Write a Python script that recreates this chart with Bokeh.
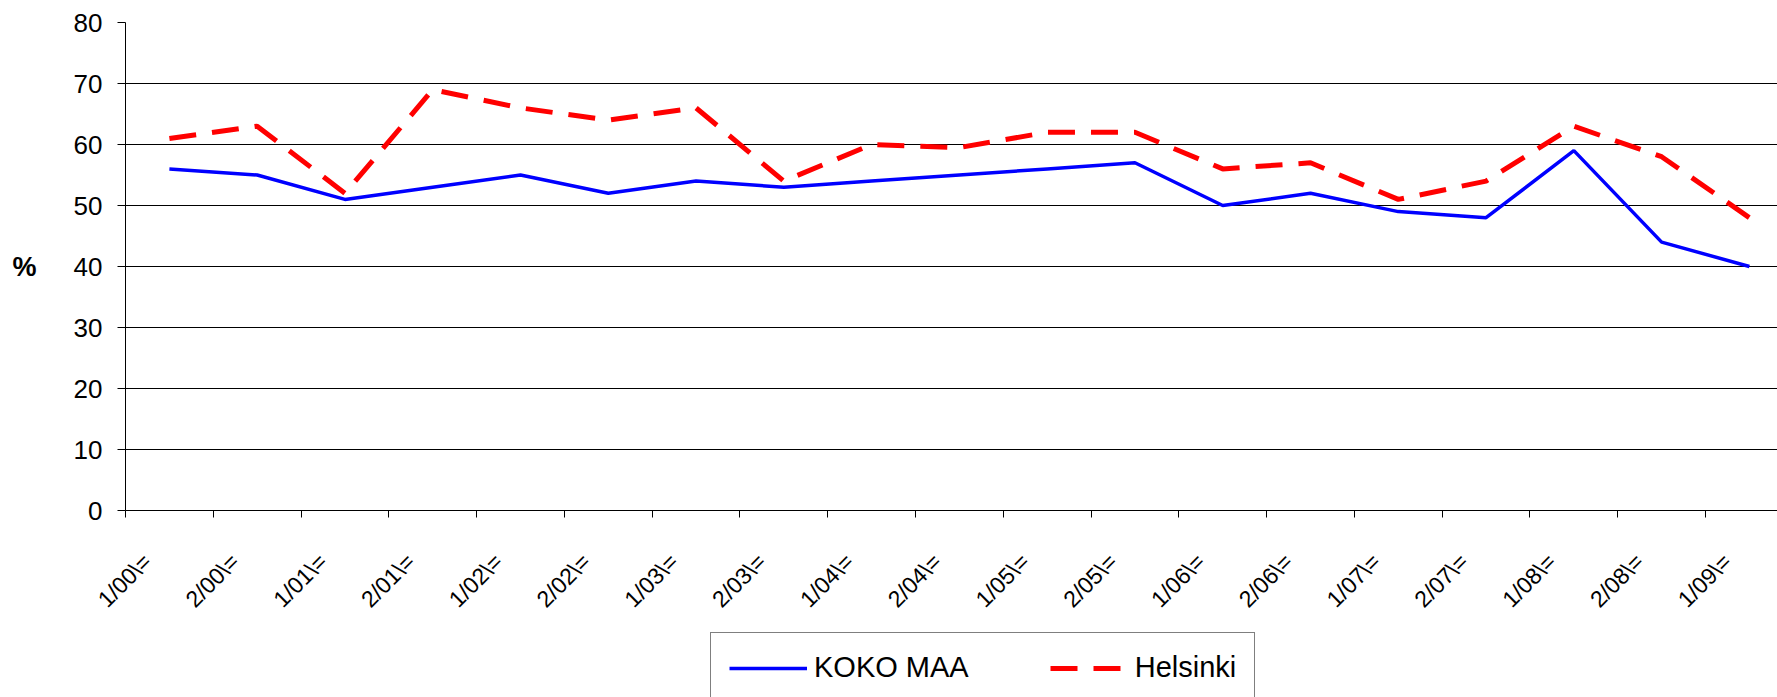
from math import pi
from bokeh.plotting import figure
from bokeh.layouts import column
from bokeh.models import Range1d, FixedTicker, Legend, LegendItem
from bokeh.embed import file_html
from bokeh.resources import INLINE

# ---- data ----
labels = ["1/00\\=", "2/00\\=", "1/01\\=", "2/01\\=", "1/02\\=", "2/02\\=", "1/03\\=",
          "2/03\\=", "1/04\\=", "2/04\\=", "1/05\\=", "2/05\\=", "1/06\\=", "2/06\\=",
          "1/07\\=", "2/07\\=", "1/08\\=", "2/08\\=", "1/09\\="]
koko_maa = [56, 55, 51, 53, 55, 52, 54, 53, 54, 55, 56, 57, 50, 52, 49, 48, 59, 44, 40]
helsinki = [61, 63, 52, 69, 66, 64, 66, 54, 60, 59.5, 62, 62, 56, 57, 51, 54, 63, 58, 48]
y_ticks = [0, 10, 20, 30, 40, 50, 60, 70, 80]

FONT = "Liberation Sans"
LABEL_SHIFT = -0.25
BLUE = dict(line_color="#0000FF", line_width=3.5)
RED = dict(line_color="#FF0000", line_width=5, line_dash="27 16")

xs = list(range(len(labels)))

# ---------------- main chart ----------------
p = figure(width=1777, height=632, output_backend="svg", toolbar_location=None,
           x_range=Range1d(-0.5, 18.32), y_range=Range1d(0, 80),
           min_border_left=125, min_border_right=0, min_border_top=22,
           min_border_bottom=122, outline_line_color=None)
p.background_fill_color = "white"
p.border_fill_color = "white"

p.line(xs, koko_maa, **BLUE)
p.line(xs, helsinki, **RED)

# y axis
p.yaxis.ticker = FixedTicker(ticks=y_ticks)
p.yaxis.axis_line_color = "black"
p.yaxis.major_tick_out = 8
p.yaxis.major_tick_in = 0
p.yaxis.minor_tick_line_color = None
p.yaxis.major_label_text_font = FONT
p.yaxis.major_label_text_font_size = "26px"
p.yaxis.major_label_text_color = "black"
p.yaxis.major_label_standoff = 15
p.yaxis.axis_label = "%"
p.yaxis.axis_label_orientation = "horizontal"
p.yaxis.axis_label_text_font = FONT
p.yaxis.axis_label_text_font_style = "bold"
p.yaxis.axis_label_text_font_size = "27px"
p.yaxis.axis_label_text_color = "black"
p.yaxis.axis_label_standoff = 34

# x axis: minor ticks at category boundaries, labels per category
boundaries = [i - 0.5 for i in range(len(labels) + 1)]
label_pos = [i + LABEL_SHIFT for i in xs]
p.xaxis.ticker = FixedTicker(ticks=label_pos, minor_ticks=boundaries)
p.xaxis.major_label_overrides = {pos: lab for pos, lab in zip(label_pos, labels)}
p.xaxis.major_tick_out = 0
p.xaxis.major_tick_in = 0
p.xaxis.minor_tick_out = 7
p.xaxis.minor_tick_in = 0
p.xaxis.minor_tick_line_color = "black"
p.xaxis.axis_line_color = "black"
p.xaxis.major_label_orientation = pi / 4
p.xaxis.major_label_text_font = FONT
p.xaxis.major_label_text_font_size = "23px"
p.xaxis.major_label_text_color = "black"
p.xaxis.major_label_standoff = 40

p.xgrid.grid_line_color = None
p.ygrid.ticker = FixedTicker(ticks=y_ticks)
p.ygrid.grid_line_color = "black"
p.ygrid.grid_line_width = 1

# ---------------- legend strip ----------------
# same series drawn out of view so the legend can show their line styles
q = figure(width=1777, height=65, output_backend="svg", toolbar_location=None,
           x_range=Range1d(-0.5, 18.32), y_range=Range1d(0, 1),
           x_axis_location=None, y_axis_location=None,
           min_border_left=0, min_border_right=0, min_border_top=0,
           min_border_bottom=0, outline_line_color=None)
q.xgrid.visible = False
q.ygrid.visible = False
q1 = q.line(xs, koko_maa, **BLUE)
q2 = q.line(xs, helsinki, **RED)

legend = Legend(items=[LegendItem(label="KOKO MAA", renderers=[q1]),
                       LegendItem(label="Helsinki", renderers=[q2])],
                orientation="horizontal", location=(585, -6),
                padding=18, spacing=81, margin=0,
                glyph_width=78, label_standoff=7,
                label_text_font=FONT, label_text_font_size="29px",
                label_text_color="black",
                border_line_color="black", border_line_width=1,
                background_fill_color="white", background_fill_alpha=1)
q.add_layout(legend, "center")

layout = column(p, q, spacing=0)
open("out.html", "w").write(file_html(layout, INLINE))
